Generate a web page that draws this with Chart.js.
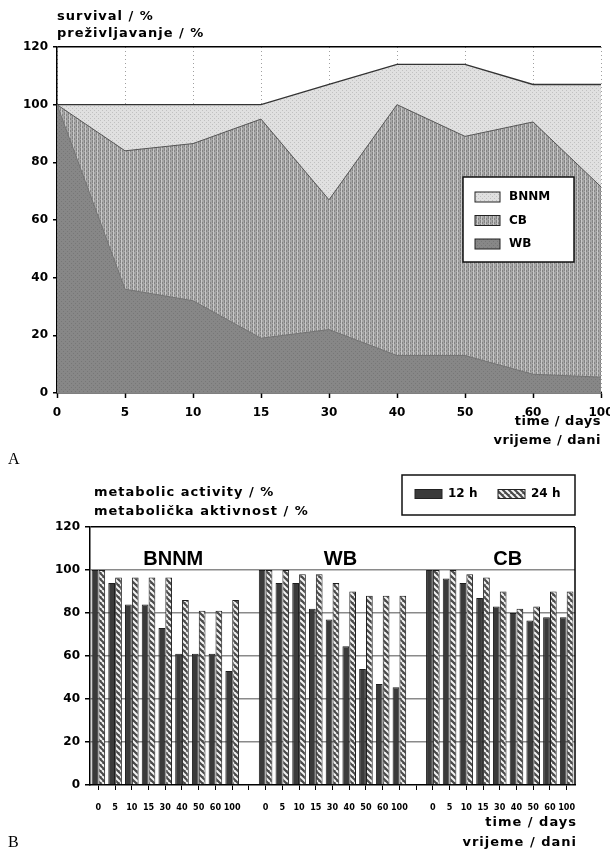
<!DOCTYPE html>
<html>
<head>
<meta charset="utf-8">
<script src="https://cdn.jsdelivr.net/npm/chart.js@4/dist/chart.umd.min.js"></script>
<style>
  html, body { margin: 0; padding: 0; background: #fff; }
  canvas { display: block; }
</style>
</head>
<body>
<canvas id="survival" width="610" height="470"></canvas>
<canvas id="activity" width="610" height="384"></canvas>
<script>
// time points, days
var dayLabels = ['0', '5', '10', '15', '30', '40', '50', '60', '100'];

// A: survival / %
var bnnmSurvival = [100, 100, 100, 100, 107, 114, 114, 107, 107];
var cbSurvival   = [100, 84, 86.5, 95, 67, 100, 89, 94, 71.5];
var wbSurvival   = [100, 36, 32, 19, 22, 13, 13, 6.5, 5.5];

// B: metabolic activity / %
var groupNames = ['BNNM', 'WB', 'CB'];
var bnnm12 = [100, 94, 84, 84, 73, 61, 61, 61, 53];
var bnnm24 = [100, 96.5, 96.5, 96.5, 96.5, 86, 81, 81, 86];
var wb12   = [100, 94, 94, 82, 77, 64.5, 54, 47, 45.5];
var wb24   = [100, 100, 98, 98, 94, 90, 88, 88, 88];
var cb12   = [100, 96, 94, 87, 83, 80, 76.5, 78, 78];
var cb24   = [100, 100, 98, 96.5, 90, 82, 83, 90, 90];

var yTicks = [0, 20, 40, 60, 80, 100, 120];

var FONT = "'DejaVu Sans', sans-serif";

function makePattern(w, h, draw) {
    let c = document.createElement('canvas');
    c.width = w;
    c.height = h;
    let g = c.getContext('2d');
    draw(g, w, h);
    return g.createPattern(c, 'repeat');
}

var patBNNM = makePattern(4, 4, function(g, w, h) {
    g.fillStyle = '#e0e0e0';
    g.fillRect(0, 0, w, h);
    g.fillStyle = '#c0c0c0';
    g.fillRect(0, 0, 1, 1);
    g.fillRect(2, 2, 1, 1);
});
var patCB = makePattern(4, 4, function(g, w, h) {
    g.fillStyle = '#a6a6a6';
    g.fillRect(0, 0, w, h);
    g.fillStyle = '#848484';
    g.fillRect(0, 0, 1, 3);
    g.fillRect(2, 2, 1, 3);
    g.fillStyle = '#c8c8c8';
    g.fillRect(1, 0, 1, 4);
});
var patWB = makePattern(4, 4, function(g, w, h) {
    g.fillStyle = '#878787';
    g.fillRect(0, 0, w, h);
    g.fillStyle = '#777';
    g.fillRect(1, 1, 1, 1);
    g.fillRect(3, 3, 1, 1);
});
var patHatch = makePattern(6, 6, function(g, w, h) {
    g.fillStyle = '#4a4a4a';
    g.fillRect(0, 0, w, h);
    g.strokeStyle = '#f4f4f4';
    g.lineWidth = 2;
    [-6, 0, 6].forEach(function(x0) {
        g.beginPath();
        g.moveTo(x0, 0);
        g.lineTo(x0 + 6, 6);
        g.stroke();
    });
});

// free text: titles, axis captions, panel letters
const panelText = {
    id: 'panelText',
    afterDraw: (chart, args, options) => {
        const {ctx} = chart;
        ctx.save();
        ctx.fillStyle = '#000';
        ctx.textBaseline = 'middle';
        (options.items || []).forEach(function(it) {
            ctx.font = it.font;
            ctx.textAlign = it.align || 'left';
            ctx.letterSpacing = it.spacing || '0px';
            ctx.fillText(it.text, it.x, it.y);
        });
        ctx.letterSpacing = '0px';
        if (options.groups) {
            let xs = chart.scales.x;
            ctx.font = options.groups.font;
            ctx.textAlign = 'center';
            options.groups.names.forEach(function(name, gi) {
                let mid = gi * (dayLabels.length + 1) + (dayLabels.length - 1) / 2;
                ctx.fillText(name, xs.getPixelForValue(mid) + options.groups.dx, options.groups.y);
            });
        }
        if (options.frameRight) {
            let a = chart.chartArea;
            ctx.strokeStyle = '#000';
            ctx.lineWidth = 1.5;
            ctx.beginPath();
            ctx.moveTo(a.right, a.top);
            ctx.lineTo(a.right, a.bottom);
            ctx.stroke();
        }
        ctx.restore();
    }
};

// boxed legend placed like in the paper
const boxLegend = {
    id: 'boxLegend',
    afterDraw: (chart, args, o) => {
        const {ctx} = chart;
        ctx.save();
        ctx.fillStyle = '#fff';
        ctx.fillRect(o.x, o.y, o.w, o.h);
        ctx.strokeStyle = '#111';
        ctx.lineWidth = 1.5;
        ctx.strokeRect(o.x, o.y, o.w, o.h);
        ctx.font = o.font;
        ctx.textBaseline = 'middle';
        ctx.textAlign = 'left';
        chart.data.datasets.forEach(function(ds, i) {
            let sx = o.x + o.sx + i * o.stepX;
            let sy = o.y + o.sy + i * o.stepY;
            ctx.fillStyle = ds.backgroundColor;
            ctx.fillRect(sx, sy - o.sh / 2, o.sw, o.sh);
            ctx.strokeStyle = '#222';
            ctx.lineWidth = 1;
            ctx.strokeRect(sx, sy - o.sh / 2, o.sw, o.sh);
            ctx.fillStyle = '#000';
            ctx.fillText(ds.label, sx + o.sw + o.gap, sy);
        });
        ctx.restore();
    }
};

function tickFont(size) {
    return { family: FONT, size: size, weight: 'bold' };
}

new Chart(document.getElementById('survival'), {
    type: 'line',
    data: {
        labels: dayLabels,
        datasets: [
            {
                label: 'BNNM',
                data: bnnmSurvival,
                order: 2,
                backgroundColor: patBNNM,
                borderColor: '#333',
                borderWidth: 1.3,
                fill: 'origin',
                pointRadius: 0,
                tension: 0,
            }, {
                label: 'CB',
                data: cbSurvival,
                order: 1,
                backgroundColor: patCB,
                borderColor: '#555',
                borderWidth: 1,
                fill: 'origin',
                pointRadius: 0,
                tension: 0,
            }, {
                label: 'WB',
                data: wbSurvival,
                order: 0,
                backgroundColor: patWB,
                borderColor: '#747474',
                borderWidth: 1,
                fill: 'origin',
                pointRadius: 0,
                tension: 0,
            }
        ],
    },
    options: {
        responsive: false,
        animation: false,
        layout: { padding: { top: 47, right: 9, bottom: 47, left: 0 } },
        plugins: {
            legend: { display: false },
            tooltip: { enabled: false },
            panelText: {
                items: [
                    { text: 'survival / %', x: 57, y: 17, font: 'bold 13px ' + FONT, spacing: '1px' },
                    { text: 'preživljavanje / %', x: 57, y: 34, font: 'bold 13px ' + FONT, spacing: '1px' },
                    { text: 'time / days', x: 601, y: 422, align: 'right', font: 'bold 13px ' + FONT, spacing: '0.5px' },
                    { text: 'vrijeme / dani', x: 601, y: 441, align: 'right', font: 'bold 13px ' + FONT, spacing: '0.5px' },
                    { text: 'A', x: 8, y: 460, font: "16px 'Liberation Serif', 'DejaVu Serif', serif" },
                ],
            },
            boxLegend: {
                x: 463, y: 177, w: 111, h: 85,
                sx: 12, sy: 20, stepX: 0, stepY: 23.5,
                sw: 25, sh: 10, gap: 9,
                font: 'bold 12px ' + FONT,
            },
        },
        scales: {
            x: {
                type: 'category',
                offset: false,
                grid: {
                    color: '#a0a0a0',
                    lineWidth: 1,
                    tickColor: '#000',
                    tickLength: 5,
                    tickWidth: 1.5,
                },
                border: { color: '#000', width: 1.5, dash: [1, 3] },
                ticks: {
                    color: '#000',
                    font: tickFont(12),
                    padding: 8,
                    autoSkip: false,
                    maxRotation: 0,
                    minRotation: 0,
                },
                afterFit: function(s) { s.height = 30; s.paddingLeft = 0; s.paddingRight = 0; },
            },
            y: {
                min: 0,
                max: 120,
                afterBuildTicks: function(s) { s.ticks = yTicks.map(function(v) { return { value: v }; }); },
                grid: {
                    color: function(c) { return c.tick && c.tick.value === 120 ? '#000' : 'rgba(0,0,0,0)'; },
                    lineWidth: 1.5,
                    tickColor: '#000',
                    tickLength: 4,
                    tickWidth: 1.5,
                },
                border: { color: '#000', width: 1.5 },
                ticks: {
                    color: '#000',
                    font: tickFont(12),
                    padding: 5,
                },
                afterFit: function(s) { s.width = 57; },
            },
        },
    },
    plugins: [panelText, boxLegend],
});

// three groups of nine time points with one empty slot between them
var groupLabels = [].concat(dayLabels, [''], dayLabels, [''], dayLabels);
var activity12 = [].concat(bnnm12, [null], wb12, [null], cb12);
var activity24 = [].concat(bnnm24, [null], wb24, [null], cb24);

new Chart(document.getElementById('activity'), {
    type: 'bar',
    data: {
        labels: groupLabels,
        datasets: [
            {
                label: '12 h',
                data: activity12,
                backgroundColor: '#3a3a3a',
                borderColor: '#1e1e1e',
                borderWidth: 1,
                categoryPercentage: 0.82,
                barPercentage: 0.98,
            }, {
                label: '24 h',
                data: activity24,
                backgroundColor: patHatch,
                borderColor: '#1e1e1e',
                borderWidth: 1,
                categoryPercentage: 0.82,
                barPercentage: 0.98,
            }
        ],
    },
    options: {
        responsive: false,
        animation: false,
        layout: { padding: { top: 57, right: 35, bottom: 39, left: 0 } },
        plugins: {
            legend: { display: false },
            tooltip: { enabled: false },
            panelText: {
                items: [
                    { text: 'metabolic activity / %', x: 94, y: 23, font: 'bold 13px ' + FONT, spacing: '1px' },
                    { text: 'metabolička aktivnost / %', x: 94, y: 42, font: 'bold 13px ' + FONT, spacing: '1px' },
                    { text: 'time / days', x: 577, y: 353, align: 'right', font: 'bold 13px ' + FONT, spacing: '1px' },
                    { text: 'vrijeme / dani', x: 577, y: 373, align: 'right', font: 'bold 13px ' + FONT, spacing: '1px' },
                    { text: 'B', x: 8, y: 373, font: "16px 'Liberation Serif', 'DejaVu Serif', serif" },
                ],
                groups: {
                    names: groupNames,
                    dx: 8,
                    y: 89,
                    font: "bold 20px 'Liberation Sans', Arial, sans-serif",
                },
                frameRight: true,
            },
            boxLegend: {
                x: 402, y: 5, w: 173, h: 40,
                sx: 13, sy: 19, stepX: 83, stepY: 0,
                sw: 27, sh: 9, gap: 6,
                font: 'bold 12px ' + FONT,
            },
        },
        scales: {
            x: {
                grid: {
                    offset: false,
                    drawOnChartArea: false,
                    tickColor: '#000',
                    tickLength: 5,
                    tickWidth: 1,
                },
                border: { color: '#000', width: 1.5 },
                ticks: {
                    color: '#000',
                    font: { family: "'DejaVu Sans Condensed', 'DejaVu Sans', sans-serif", size: 9, weight: 'bold' },
                    padding: 12,
                    autoSkip: false,
                    maxRotation: 0,
                    minRotation: 0,
                },
                afterFit: function(s) { s.height = 30; s.paddingLeft = 0; s.paddingRight = 0; },
            },
            y: {
                min: 0,
                max: 120,
                afterBuildTicks: function(s) { s.ticks = yTicks.map(function(v) { return { value: v }; }); },
                grid: {
                    color: function(c) {
                        if (!c.tick) return 'rgba(0,0,0,0)';
                        if (c.tick.value === 120) return '#000';
                        if (c.tick.value === 0) return 'rgba(0,0,0,0)';
                        return '#8a8a8a';
                    },
                    lineWidth: 1.5,
                    tickColor: '#000',
                    tickLength: 5,
                    tickWidth: 1.5,
                },
                border: { color: '#000', width: 1.5 },
                ticks: {
                    color: '#000',
                    font: tickFont(12),
                    padding: 5,
                },
                afterFit: function(s) { s.width = 90; },
            },
        },
    },
    plugins: [panelText, boxLegend],
});
</script>
</body>
</html>
